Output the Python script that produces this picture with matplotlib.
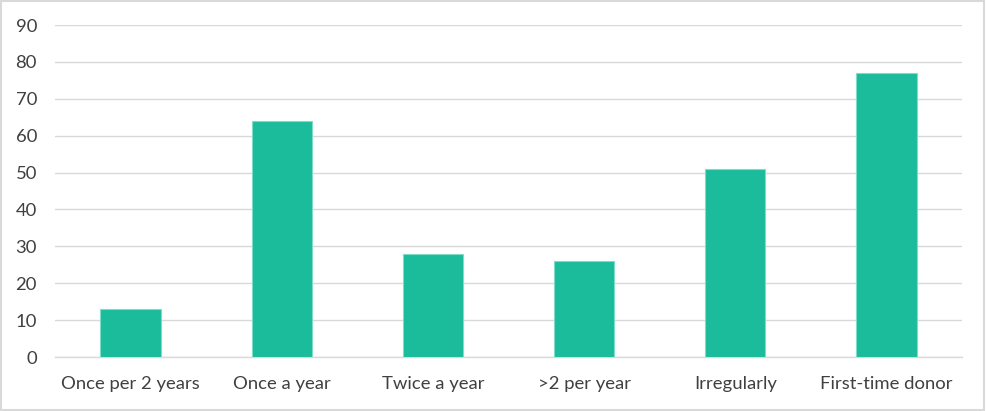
import matplotlib
matplotlib.use("Agg")
import matplotlib.pyplot as plt
from matplotlib.patches import Rectangle

categories = ["Once per 2 years", "Once a year", "Twice a year", ">2 per year", "Irregularly", "First-time donor"]
values = [13, 64, 28, 26, 51, 77]
yticks = [0, 10, 20, 30, 40, 50, 60, 70, 80, 90]

plt.rcParams['font.family'] = ['Lato', 'DejaVu Sans']

fig = plt.figure(figsize=(9.86, 4.11), dpi=100)
ax = fig.add_axes([55/986, 1-357/411, 907/986, 332/411])

x = range(len(categories))
ax.bar(x, values, width=0.4, color="#1ABC9C", edgecolor="#7FDCC8", linewidth=0.8, zorder=3)

ax.set_xlim(-0.5, len(categories)-0.5)
ax.set_ylim(0, 90)
ax.set_yticks(yticks)
ax.set_xticks(list(x))
ax.set_xticklabels(categories)
ax.grid(axis='y', color="#D9D9D9", linewidth=1, zorder=0)
for s in ['top', 'right', 'left']:
    ax.spines[s].set_visible(False)
ax.spines['bottom'].set_color("#D9D9D9")
ax.spines['bottom'].set_linewidth(1)
ax.tick_params(axis='both', length=0, labelsize=13.3, colors="#404040")
ax.tick_params(axis='y', pad=13)
ax.tick_params(axis='x', pad=14)

fig.patches.append(Rectangle((0.001, 0.002), 0.997, 0.995, transform=fig.transFigure,
                             fill=False, edgecolor="#D9D9D9", linewidth=1.5))

fig.savefig("out.png", dpi=100)
